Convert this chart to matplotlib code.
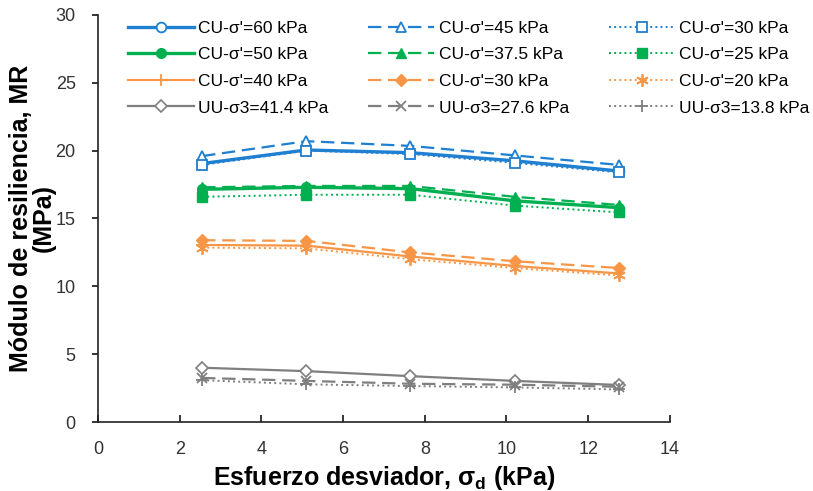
import matplotlib
matplotlib.use("Agg")
import matplotlib.pyplot as plt

plt.rcParams['font.family'] = ['Liberation Sans', 'DejaVu Sans']
plt.rcParams['mathtext.fontset'] = 'custom'
plt.rcParams['mathtext.rm'] = 'Liberation Sans'
plt.rcParams['mathtext.bf'] = 'Liberation Sans:bold'

# esfuerzo desviador (kPa)
sd = [2.55, 5.1, 7.65, 10.2, 12.75]

# modulo de resiliencia (MPa)
cu60 = [19.05, 20.05, 19.85, 19.25, 18.5]
cu45 = [19.6, 20.7, 20.35, 19.65, 18.95]
cu30b = [18.95, 20.0, 19.75, 19.1, 18.4]
cu50 = [17.15, 17.3, 17.2, 16.3, 15.8]
cu375 = [17.3, 17.4, 17.4, 16.6, 16.0]
cu25 = [16.6, 16.75, 16.75, 15.95, 15.45]
cu40 = [13.05, 13.0, 12.2, 11.5, 10.95]
cu30o = [13.4, 13.35, 12.5, 11.85, 11.35]
cu20 = [12.85, 12.8, 12.0, 11.35, 10.8]
uu414 = [4.0, 3.75, 3.38, 3.03, 2.73]
uu276 = [3.25, 3.03, 2.82, 2.75, 2.6]
uu138 = [3.08, 2.78, 2.65, 2.55, 2.4]

blue = '#1f7fd0'
green = '#00b050'
orange = '#f79646'
gray = '#7f7f7f'

fig = plt.figure(figsize=(8.13, 4.91), dpi=100)
ax = fig.add_axes([0.1205, 0.1405, 0.7035, 0.829])

h = {}
h['cu60'], = ax.plot(sd, cu60, '-', color=blue, lw=2.4, marker='o', ms=7,
                     mfc='white', mew=1.3, label="CU-σ'=60 kPa")
h['cu45'], = ax.plot(sd, cu45, '--', color=blue, lw=1.6, dashes=(6, 3), marker='^', ms=7,
                     mfc='white', mew=1.3, label="CU-σ'=45 kPa")
h['cu30b'], = ax.plot(sd, cu30b, ':', color=blue, lw=1.4, marker='s', ms=7,
                      mfc='white', mew=1.3, label="CU-σ'=30 kPa")
h['cu50'], = ax.plot(sd, cu50, '-', color=green, lw=2.4, marker='o', ms=7,
                     label="CU-σ'=50 kPa")
h['cu375'], = ax.plot(sd, cu375, '--', color=green, lw=1.6, dashes=(6, 3), marker='^', ms=7,
                      label="CU-σ'=37.5 kPa")
h['cu25'], = ax.plot(sd, cu25, ':', color=green, lw=1.4, marker='s', ms=7,
                     label="CU-σ'=25 kPa")
h['cu40'], = ax.plot(sd, cu40, '-', color=orange, lw=1.6, marker='+', ms=9,
                     mew=1.3, label="CU-σ'=40 kPa")
h['cu30o'], = ax.plot(sd, cu30o, '--', color=orange, lw=1.6, dashes=(6, 3), marker='D', ms=6,
                      label="CU-σ'=30 kPa")
h['cu20'], = ax.plot(sd, cu20, ':', color=orange, lw=1.4, marker=(6, 2, 0), ms=9,
                     mew=1.3, label="CU-σ'=20 kPa")
h['uu414'], = ax.plot(sd, uu414, '-', color=gray, lw=1.6, marker='D', ms=6,
                      mfc='white', mew=1.2, label="UU-σ3=41.4 kPa")
h['uu276'], = ax.plot(sd, uu276, '--', color=gray, lw=1.6, dashes=(6, 3), marker='x', ms=7,
                      mew=1.3, label="UU-σ3=27.6 kPa")
h['uu138'], = ax.plot(sd, uu138, ':', color=gray, lw=1.4, marker='+', ms=9,
                      mew=1.3, label="UU-σ3=13.8 kPa")

ax.set_xlim(0, 14)
ax.set_ylim(0, 30)
ax.set_xticks(range(0, 15, 2))
ax.set_yticks(range(0, 31, 5))
ax.spines['top'].set_visible(False)
ax.spines['right'].set_visible(False)
for s in ['left', 'bottom']:
    ax.spines[s].set_linewidth(1.2)
    ax.spines[s].set_color('#222222')
ax.tick_params(axis='x', direction='in', length=5, width=1.1, labelsize=13,
               labelcolor='#333333', pad=14)
ax.tick_params(axis='y', direction='out', length=4, width=1.1, labelsize=13,
               labelcolor='#333333', pad=12)

ax.set_xlabel('Esfuerzo desviador, σ$_{\\mathbf{d}}$ (kPa)', fontsize=18,
              fontweight='bold')
ax.xaxis.set_label_coords(0.5, -0.102)
ax.set_ylabel('Módulo de resiliencia, MR\n(MPa)', fontsize=18,
              fontweight='bold', linespacing=0.95)
ax.yaxis.set_label_coords(-0.073, 0.5)

order = ['cu60', 'cu50', 'cu40', 'uu414',
         'cu45', 'cu375', 'cu30o', 'uu276',
         'cu30b', 'cu25', 'cu20', 'uu138']
handles = [h[k] for k in order]
leg = fig.legend(handles, [x.get_label() for x in handles], ncol=3,
                 loc='upper left', bbox_to_anchor=(0.138, 0.99),
                 frameon=False, fontsize=12.5, handlelength=3.8,
                 handletextpad=0.25, columnspacing=2.3, labelspacing=0.66)

fig.savefig('out.png', dpi=100)
